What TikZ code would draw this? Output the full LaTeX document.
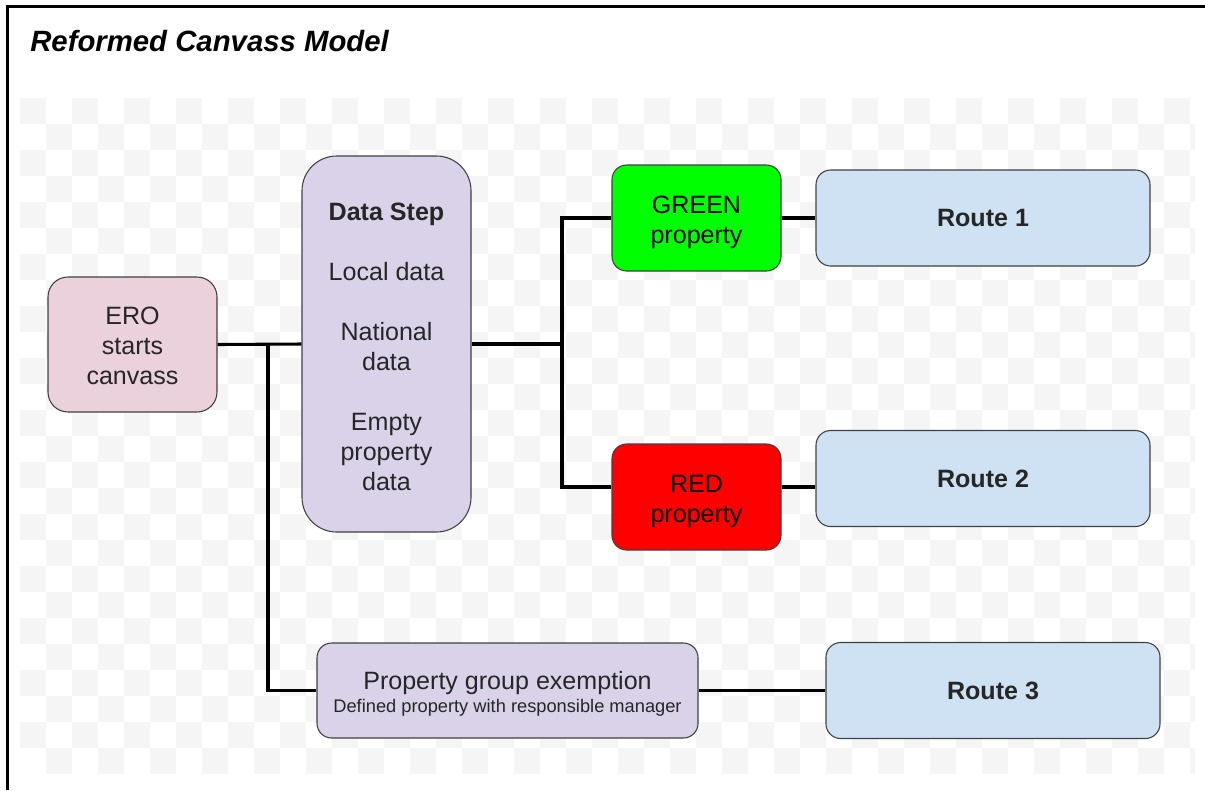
\documentclass[tikz,border=0pt]{standalone}
\usepackage{fontspec}
\setmainfont{Liberation Sans}
\usepackage{tikz}
\definecolor{eropink}{HTML}{EAD1DC}
\definecolor{steplilac}{HTML}{D9D2E9}
\definecolor{routeblue}{HTML}{CFE2F3}
\definecolor{checkgrey}{HTML}{F5F5F5}
% extra room above the first line, to sit the text a little lower in its box
\newcommand{\dropby}[1]{\rule{0pt}{#1}}

\begin{document}
\begin{tikzpicture}[x=0.75pt,y=-0.75pt]
            \tikzstyle{every node}=[align=center, inner sep=0pt, text=black!85, font=\fontsize{18.8}{22.5}\selectfont];
            \tikzstyle{box}=[draw=black!75, line width=0.8pt, minimum width=126.75pt];
            \tikzstyle{route}=[box, fill=routeblue, rounded corners=11pt, minimum width=250.5pt, minimum height=72pt, font=\fontsize{18.8}{22.5}\selectfont\bfseries];
            \tikzstyle{link}=[line width=2.3pt, black];
            \useasboundingbox (0,0) rectangle (1205,790);
            % faint checker background
            \begin{scope}
                \clip (20,98) rectangle (1195,773);
                \foreach \i in {0,2,...,44}
                    \foreach \j in {0,2,...,24} {
                        \fill[checkgrey] (20+26*\i,98+26*\j) rectangle +(26,26);
                        \fill[checkgrey] (46+26*\i,124+26*\j) rectangle +(26,26);
                    }
            \end{scope}
            \draw[line width=2.3pt] (7.5,790) -- (7.5,6.5) -- (1205,6.5);
            \node[anchor=west, font=\fontsize{22}{26}\selectfont\bfseries\itshape, text=black] (title) at (30,41) {Reformed Canvass Model};

            \node[box, fill=eropink, rounded corners=15pt, minimum height=101.25pt] (ero) at (132.5,344.5) {\dropby{15pt}ERO\\starts\\canvass};
            \node[box, fill=steplilac, rounded corners=26pt, minimum height=282pt] (data) at (386.5,344)
                {\dropby{17pt}\textbf{Data Step}\\[22.5pt]Local data\\[22.5pt]National\\data\\[22.5pt]Empty\\property\\data};
            \node[box, fill=green, rounded corners=11pt, minimum height=79.5pt, text=black] (green) at (696.5,218) {\dropby{19.5pt}GREEN\\property};
            \node[box, fill=red, rounded corners=11pt, minimum height=79.5pt, text=black] (red) at (696.5,497) {\dropby{19.5pt}RED\\property};
            \node[route] (route1) at (983,218) {Route 1};
            \node[route] (route2) at (983,478.5) {Route 2};
            \node[box, fill=steplilac, rounded corners=11pt, minimum width=285.75pt, minimum height=71.25pt] (exempt) at (507.5,690.5)
                {\dropby{19pt}Property group exemption\\[-5pt]{\fontsize{13.7}{16}\selectfont Defined property with responsible manager}};
            \node[route] (route3) at (993,690.5) {Route 3};

            \coordinate (split) at (268,344.5);
            \coordinate (fork) at (562,344);
            \coordinate (redline) at (562,487);
            \draw[link] (ero.east) -- (data.west);
            \draw[link] (split) |- (exempt.west);
            \draw[link] (data.east) -- (fork);
            \draw[link] (fork) |- (green.west);
            \draw[link] (fork) |- (redline -| red.west);
            \draw[link] (green.east) -- (route1.west);
            \draw[link] (redline -| red.east) -- (redline -| route2.west);
            \draw[link] (exempt.east) -- (route3.west);
        \end{tikzpicture}
\end{document}
